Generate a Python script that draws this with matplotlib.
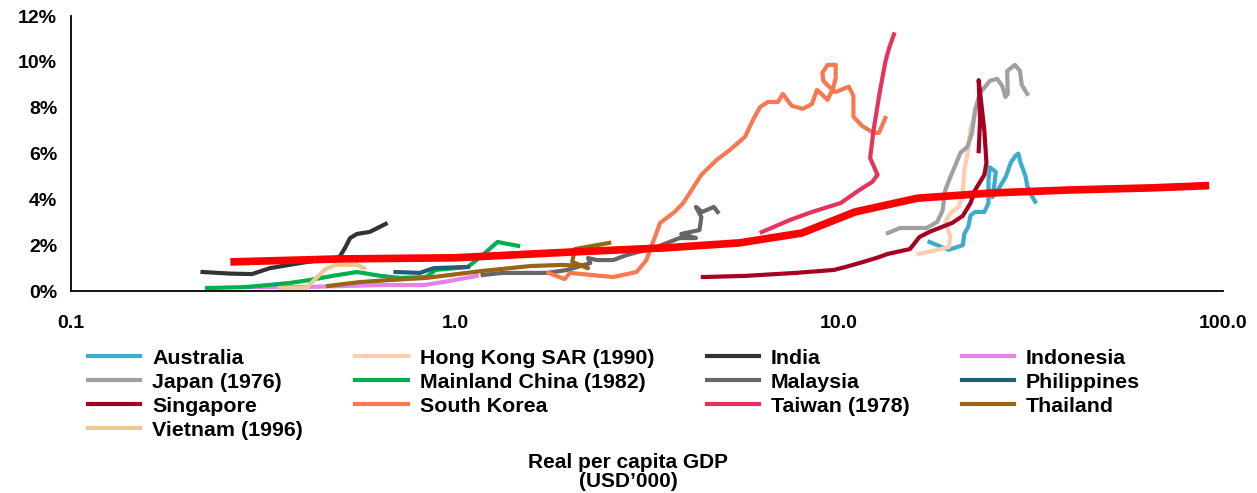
import matplotlib.pyplot as plt
from matplotlib.lines import Line2D
from matplotlib.ticker import FixedLocator, FuncFormatter, NullLocator

plt.rcParams['font.family'] = ['Liberation Sans', 'DejaVu Sans']
plt.rcParams['font.weight'] = 'bold'

# real per capita GDP (USD'000) against share (%) for each economy
australia_gdp = [17.2, 19.3, 21.0, 21.2, 21.7, 22.0, 22.6, 23.9, 24.5, 24.5, 24.5, 24.7, 25.6,
                 25.4, 25.1, 25.9, 27.2, 28.0, 28.8, 29.3, 29.7, 30.6, 30.9, 31.4, 32.4]
australia_pct = [2.14, 1.8, 2.0, 2.5, 2.8, 3.3, 3.45, 3.45, 3.84, 4.3, 4.85, 5.4, 5.2,
                 4.7, 4.1, 4.4, 5.0, 5.6, 5.9, 6.0, 5.6, 5.0, 4.6, 4.3, 3.9]

hongkong_gdp = [16.1, 18.0, 19.3, 19.5, 18.9, 19.5, 20.5, 21.0, 21.2, 21.6, 22.0, 22.6, 23.1]
hongkong_pct = [1.62, 1.79, 1.92, 2.36, 3.0, 3.4, 3.67, 4.3, 5.3, 6.0, 7.1, 7.7, 8.3]

india_gdp = [0.22, 0.26, 0.296, 0.33, 0.395, 0.50, 0.517, 0.533, 0.555, 0.60, 0.66]
india_pct = [0.83, 0.76, 0.74, 1.0, 1.22, 1.48, 1.88, 2.31, 2.49, 2.58, 2.93]

indonesia_gdp = [0.284, 0.395, 0.64, 0.83, 0.97, 1.14]
indonesia_pct = [0.17, 0.17, 0.26, 0.26, 0.44, 0.66]

japan_gdp = [13.4, 14.4, 16.9, 18.0, 18.6, 18.9, 19.5, 20.1, 20.7, 21.6, 22.2, 22.6,
             23.3, 24.7, 25.8, 26.6, 27.1, 27.5, 27.4, 28.7, 29.6, 29.9, 30.9]
japan_pct = [2.53, 2.75, 2.75, 3.01, 3.5, 4.4, 4.98, 5.5, 6.03, 6.3, 6.9, 7.9,
             8.65, 9.17, 9.26, 8.95, 8.47, 8.6, 9.6, 9.87, 9.6, 9.0, 8.6]

china_gdp = [0.226, 0.284, 0.371, 0.419, 0.48, 0.555, 0.64, 0.72, 0.84, 0.89, 1.08, 1.18, 1.29, 1.46]
china_pct = [0.13, 0.17, 0.35, 0.48, 0.66, 0.83, 0.66, 0.57, 0.61, 0.92, 1.05, 1.57, 2.14, 1.97]

malaysia_gdp = [1.18, 1.33, 1.74, 1.96, 2.25, 2.22, 2.34, 2.58, 2.8, 3.35, 3.84, 4.24,
                3.88, 4.33, 4.38, 4.24, 4.4, 4.72, 4.83]
malaysia_pct = [0.70, 0.79, 0.79, 0.92, 1.22, 1.44, 1.35, 1.35, 1.57, 1.92, 2.31, 2.31,
                2.49, 2.66, 3.23, 3.67, 3.45, 3.67, 3.45]

philippines_gdp = [0.70, 0.81, 0.88, 1.08]
philippines_pct = [0.83, 0.79, 1.0, 1.05]

singapore_gdp = [4.42, 5.7, 7.7, 9.7, 10.4, 11.3, 12.5, 13.4, 15.3, 16.2, 17.3, 19.7,
                 21.0, 22.0, 22.6, 23.9, 24.2, 23.9, 23.1, 23.3, 23.1]
singapore_pct = [0.61, 0.66, 0.79, 0.92, 1.05, 1.22, 1.44, 1.62, 1.83, 2.36, 2.6, 2.97,
                 3.28, 3.84, 4.4, 5.07, 5.59, 7.0, 9.2, 7.5, 6.1]

korea_gdp = [1.75, 1.93, 1.99, 2.58, 2.97, 3.15, 3.22, 3.42, 3.73, 3.93, 4.38, 4.8, 5.2,
             5.69, 5.97, 6.23, 6.53, 6.93, 7.14, 7.53, 8.05, 8.5, 8.76, 9.34, 9.6, 9.1,
             9.05, 9.34, 9.8, 9.8, 9.6, 9.85, 10.6, 10.9, 10.9, 11.5, 12.3, 12.7, 13.2]
korea_pct = [0.79, 0.52, 0.79, 0.61, 0.83, 1.35, 1.79, 2.97, 3.45, 3.84, 5.07, 5.72, 6.16,
             6.73, 7.47, 8.03, 8.25, 8.25, 8.6, 8.08, 7.95, 8.16, 8.78, 8.34, 8.78, 9.17,
             9.52, 9.87, 9.87, 9.3, 8.7, 8.7, 8.92, 8.52, 7.6, 7.2, 6.9, 6.9, 7.55]

taiwan_gdp = [6.29, 7.45, 8.5, 10.1, 11.3, 12.2, 12.6, 12.05, 12.3, 12.6, 12.7, 13.2, 13.5, 13.9]
taiwan_pct = [2.57, 3.1, 3.45, 3.84, 4.41, 4.76, 5.07, 5.8, 7.03, 8.1, 8.47, 10.0, 10.6, 11.2]

thailand_gdp = [0.467, 0.565, 0.678, 0.84, 1.17, 1.57, 1.9, 2.16, 2.22, 2.02, 2.05, 2.52]
thailand_pct = [0.22, 0.39, 0.48, 0.57, 0.87, 1.09, 1.14, 1.09, 1.0, 1.27, 1.83, 2.1]

vietnam_gdp = [0.35, 0.41, 0.43, 0.46, 0.49, 0.555, 0.58]
vietnam_pct = [0.13, 0.13, 0.48, 0.96, 1.14, 1.14, 1.0]

# fitted path across all economies
trend_gdp = [0.26, 0.5, 1.0, 2.0, 3.5, 5.5, 8.0, 11.0, 16.0, 25.0, 40.0, 65.0, 92.0]
trend_pct = [1.27, 1.4, 1.45, 1.7, 1.88, 2.1, 2.53, 3.45, 4.05, 4.28, 4.41, 4.5, 4.6]

x_ticks = [0.1, 1.0, 10.0, 100.0]
y_ticks = [0, 2, 4, 6, 8, 10, 12]

series = [
    ('Australia', australia_gdp, australia_pct, '#3AADCF'),
    ('Hong Kong SAR (1990)', hongkong_gdp, hongkong_pct, '#FFCCAE'),
    ('India', india_gdp, india_pct, '#333333'),
    ('Indonesia', indonesia_gdp, indonesia_pct, '#E583E8'),
    ('Japan (1976)', japan_gdp, japan_pct, '#A0A0A0'),
    ('Mainland China (1982)', china_gdp, china_pct, '#00B050'),
    ('Malaysia', malaysia_gdp, malaysia_pct, '#666666'),
    ('Philippines', philippines_gdp, philippines_pct, '#215E78'),
    ('Singapore', singapore_gdp, singapore_pct, '#A50021'),
    ('South Korea', korea_gdp, korea_pct, '#FA7850'),
    ('Taiwan (1978)', taiwan_gdp, taiwan_pct, '#E5335C'),
    ('Thailand', thailand_gdp, thailand_pct, '#996414'),
    ('Vietnam (1996)', vietnam_gdp, vietnam_pct, '#E8CA92'),
]

fig = plt.figure(figsize=(12.57, 4.93), dpi=100)
ax = fig.add_axes([0.0565, 0.4097, 0.9165, 0.5578])

handles = {}
for name, gdp, pct, color in series:
    ax.plot(gdp, pct, color=color, lw=3.0, solid_joinstyle='round', zorder=2)
    handles[name] = Line2D([], [], color=color, lw=3.0)

ax.plot(trend_gdp, trend_pct, color='#FF0000', lw=5.5, solid_capstyle='butt', zorder=3)

ax.set_xscale('log')
ax.set_xlim(0.1, 100)
ax.set_ylim(0, 12)
ax.xaxis.set_major_locator(FixedLocator(x_ticks))
ax.xaxis.set_minor_locator(NullLocator())
ax.xaxis.set_major_formatter(FuncFormatter(lambda v, p: f'{v:.1f}'))
ax.yaxis.set_major_locator(FixedLocator(y_ticks))
ax.yaxis.set_major_formatter(FuncFormatter(lambda v, p: f'{v:.0f}%'))
ax.tick_params(axis='both', length=0, labelsize=14)
ax.tick_params(axis='x', pad=17)
ax.tick_params(axis='y', pad=10)
for side in ['top', 'right']:
    ax.spines[side].set_visible(False)
for side in ['left', 'bottom']:
    ax.spines[side].set_linewidth(1.3)

# matplotlib fills legend columns first, so order entries column by column
legend_order = ['Australia', 'Japan (1976)', 'Singapore', 'Vietnam (1996)',
                'Hong Kong SAR (1990)', 'Mainland China (1982)', 'South Korea',
                'India', 'Malaysia', 'Taiwan (1978)',
                'Indonesia', 'Philippines', 'Thailand']
fig.legend([handles[n] for n in legend_order], legend_order, ncol=4,
           loc='upper left', bbox_to_anchor=(0.070, 0.293), frameon=False,
           fontsize=15.4, handlelength=2.45, handletextpad=0.55, columnspacing=2.45,
           labelspacing=0.24, borderpad=0, borderaxespad=0)

fig.text(0.5, 1 - 472 / 493, 'Real per capita GDP\n(USD\u2019000)', ha='center', va='center',
         fontsize=15, fontweight='bold', linespacing=1.05)

fig.savefig('out.png', dpi=100)
